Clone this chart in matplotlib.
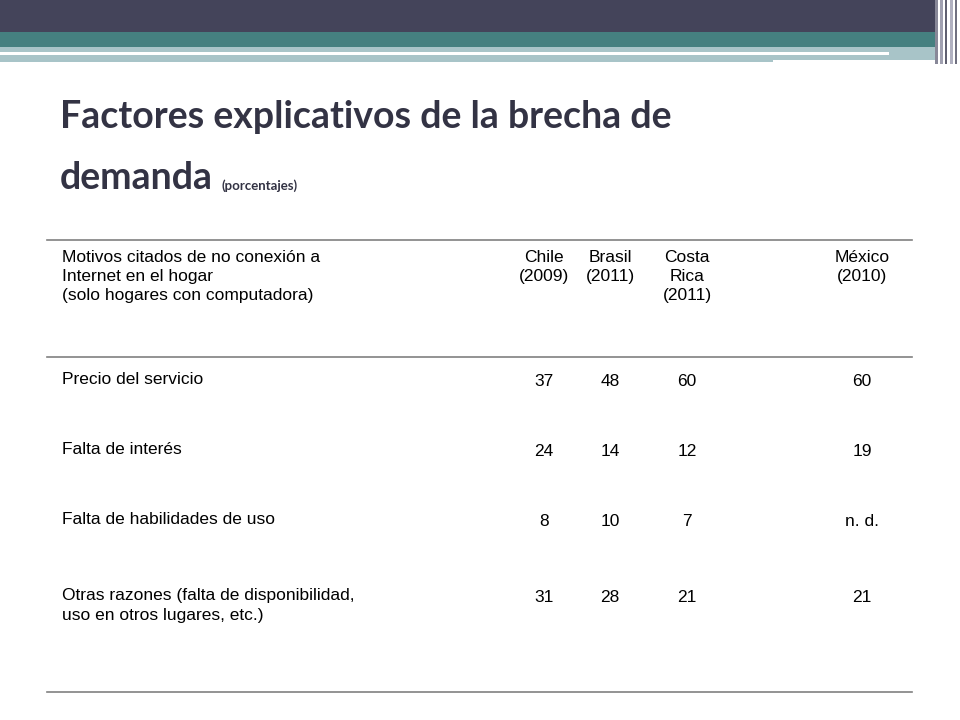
import matplotlib
matplotlib.use("Agg")
import matplotlib.pyplot as plt
from matplotlib.patches import Rectangle

header_label = "Motivos citados de no conexión a\nInternet en el hogar\n(solo hogares con computadora)"
countries = ["Chile\n(2009)", "Brasil\n(2011)", "Costa\nRica\n(2011)", "México\n(2010)"]
rows = ["Precio del servicio", "Falta de interés", "Falta de habilidades de uso",
        "Otras razones (falta de disponibilidad,\nuso en otros lugares, etc.)"]
chile = ["37", "24", "8", "31"]
brasil = ["48", "14", "10", "28"]
costa_rica = ["60", "12", "7", "21"]
mexico = ["60", "19", "n. d.", "21"]

W, H = 960, 720
fig = plt.figure(figsize=(9.6, 7.2), dpi=100)
ax = fig.add_axes([0, 0, 1, 1])
ax.set_xlim(0, W); ax.set_ylim(H, 0); ax.axis("off")

# decoration
ax.add_patch(Rectangle((0, 0), 935, 32, color="#44445A", lw=0))
ax.add_patch(Rectangle((0, 32), 935, 15, color="#458080", lw=0))
ax.add_patch(Rectangle((0, 47), 935, 13, color="#A8C4C8", lw=0))
ax.add_patch(Rectangle((0, 60), 773, 2, color="#A8C4C8", lw=0))
ax.add_patch(Rectangle((0, 52), 889, 2.5, color="white", lw=0))
for x, c, w in [(935, "#888898", 3), (940, "#A0A0B0", 3), (945, "#606070", 2), (950, "#B0B0C0", 3), (955, "#707080", 2)]:
    ax.add_patch(Rectangle((x, 0), w, 64, color=c, lw=0))

tfam = "Lato"
ax.text(60, 117, "Factores explicativos de la brecha de", fontsize=27, fontweight="bold",
        color="#333344", va="center", family=tfam)
t2 = ax.text(60, 178, "demanda", fontsize=27, fontweight="bold", color="#333344", va="center", family=tfam)
fig.canvas.draw()
bb = t2.get_window_extent(fig.canvas.get_renderer())
ax.text(bb.x1 + 8, 186, "(porcentajes)", fontsize=9.5, fontweight="bold", color="#333344",
        va="center", family=tfam)

for y in (240, 357, 692):
    ax.plot([47, 912], [y, y], color="#808080", lw=1.2)

fs = 12.5
fam = "Liberation Sans"
ax.text(62, 250, header_label, fontsize=fs, va="top", linespacing=1.35, family=fam)
cx = [544, 610, 687, 862]
for x, c in zip(cx, countries):
    ax.text(x, 250, c, fontsize=fs, va="top", ha="center", linespacing=1.35, family=fam)

ys = [381, 451, 521, 597]
cols = [chile, brasil, costa_rica, mexico]
for i, (y, r) in enumerate(zip(ys, rows)):
    ax.text(62, y - 9, r, fontsize=fs, va="top", linespacing=1.45, family=fam)
    for x, col in zip(cx, cols):
        ax.text(x, y, col[i], fontsize=fs, va="center", ha="center", family=fam)

fig.savefig("out.png", dpi=100)
